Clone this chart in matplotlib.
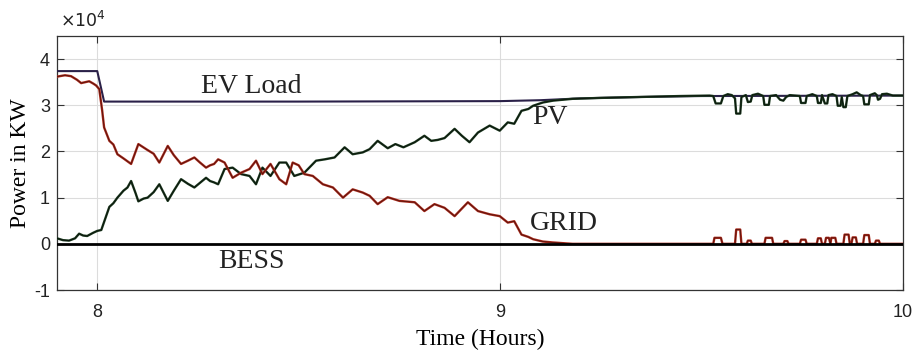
import numpy as np
import matplotlib
matplotlib.use('Agg')
import matplotlib.pyplot as plt

# values in units of 1e4 kW, time in hours
t_load = [7.90, 8.00, 8.017, 8.5, 9.0, 9.1, 9.2, 9.35, 9.5, 10.0]
load = [3.74, 3.74, 3.08, 3.08, 3.09, 3.11, 3.15, 3.18, 3.20, 3.21]

t_pv = [7.90, 7.915, 7.93, 7.945, 7.955, 7.965, 7.975, 7.99, 8.00, 8.01,
        8.02, 8.03, 8.04, 8.05, 8.065, 8.075, 8.084, 8.095, 8.102, 8.115,
        8.125, 8.14, 8.154, 8.165, 8.175, 8.19, 8.208, 8.225, 8.241, 8.255,
        8.27, 8.28, 8.29, 8.30, 8.316, 8.336, 8.357, 8.378, 8.394, 8.41,
        8.43, 8.452, 8.469, 8.489, 8.514, 8.543, 8.565, 8.589, 8.614, 8.634,
        8.659, 8.676, 8.696, 8.721, 8.74, 8.76, 8.788, 8.812, 8.829, 8.845,
        8.862, 8.887, 8.905, 8.924, 8.945, 8.974, 8.999, 9.019, 9.035, 9.053,
        9.07, 9.082, 9.106, 9.131, 9.155, 9.18, 9.25, 9.35, 9.446, 9.52,
        9.529, 9.535, 9.548, 9.554, 9.565, 9.575, 9.583, 9.586, 9.596, 9.599,
        9.61, 9.615, 9.622, 9.626, 9.64, 9.653, 9.656, 9.667, 9.670, 9.685,
        9.695, 9.703, 9.71, 9.719, 9.744, 9.747, 9.758, 9.761, 9.775, 9.786,
        9.789, 9.796, 9.799, 9.806, 9.812, 9.815, 9.825, 9.835, 9.838, 9.845,
        9.848, 9.852, 9.858, 9.862, 9.875, 9.885, 9.895, 9.901, 9.904, 9.915,
        9.918, 9.93, 9.935, 9.938, 9.943, 9.948, 9.96, 9.975, 10.0]
pv = [0.12, 0.08, 0.07, 0.12, 0.22, 0.18, 0.17, 0.24, 0.28, 0.30,
      0.55, 0.80, 0.88, 1.00, 1.15, 1.22, 1.36, 1.10, 0.92, 0.98,
      1.00, 1.12, 1.29, 1.10, 0.93, 1.15, 1.40, 1.30, 1.22, 1.32,
      1.43, 1.36, 1.33, 1.29, 1.62, 1.65, 1.51, 1.47, 1.29, 1.65,
      1.47, 1.76, 1.76, 1.47, 1.54, 1.80, 1.83, 1.87, 2.09, 1.94,
      1.98, 2.05, 2.23, 2.07, 2.16, 2.09, 2.20, 2.34, 2.23, 2.25,
      2.29, 2.49, 2.34, 2.20, 2.41, 2.56, 2.45, 2.63, 2.60, 2.88,
      2.92, 2.99, 3.06, 3.10, 3.12, 3.14, 3.16, 3.18, 3.20, 3.21,
      3.20, 3.04, 3.04, 3.20, 3.24, 3.22, 3.15, 2.82, 2.82, 3.18,
      3.22, 3.07, 3.08, 3.22, 3.25, 3.20, 3.01, 3.01, 3.20, 3.22,
      3.12, 3.10, 3.18, 3.22, 3.20, 3.05, 3.05, 3.20, 3.24, 3.20,
      3.05, 3.05, 3.22, 3.04, 3.04, 3.22, 3.24, 3.20, 2.99, 2.99,
      3.18, 2.96, 2.96, 3.20, 3.24, 3.28, 3.22, 3.20, 3.02, 3.02,
      3.22, 3.26, 3.22, 3.12, 3.14, 3.24, 3.25, 3.21, 3.21]

t_grid = [7.90, 7.92, 7.935, 7.95, 7.96, 7.97, 7.98, 7.99, 7.997, 8.005,
          8.012, 8.017, 8.03, 8.04, 8.05, 8.065, 8.084, 8.102, 8.125, 8.14,
          8.154, 8.175, 8.19, 8.208, 8.225, 8.241, 8.255, 8.27, 8.28, 8.29,
          8.30, 8.316, 8.336, 8.357, 8.378, 8.394, 8.41, 8.43, 8.452, 8.469,
          8.485, 8.50, 8.514, 8.535, 8.56, 8.585, 8.61, 8.634, 8.659, 8.676,
          8.696, 8.721, 8.75, 8.788, 8.812, 8.837, 8.862, 8.887, 8.92, 8.945,
          8.974, 8.999, 9.019, 9.035, 9.053, 9.07, 9.082, 9.106, 9.131, 9.18,
          9.529, 9.532, 9.548, 9.552, 9.583, 9.586, 9.596, 9.599, 9.612, 9.615,
          9.622, 9.625, 9.656, 9.659, 9.675, 9.678, 9.703, 9.706, 9.713, 9.716,
          9.744, 9.747, 9.758, 9.761, 9.786, 9.789, 9.796, 9.799, 9.806, 9.809,
          9.816, 9.82, 9.822, 9.832, 9.835, 9.852, 9.855, 9.865, 9.868, 9.872,
          9.875, 9.883, 9.886, 9.901, 9.904, 9.915, 9.918, 9.93, 9.933, 9.94,
          9.943, 10.0]
grid = [3.62, 3.65, 3.63, 3.55, 3.48, 3.50, 3.52, 3.47, 3.43, 3.35,
        2.90, 2.52, 2.23, 2.15, 1.94, 1.85, 1.73, 2.16, 2.03, 1.95,
        1.76, 2.12, 1.92, 1.73, 1.80, 1.87, 1.76, 1.65, 1.70, 1.73,
        1.83, 1.76, 1.43, 1.54, 1.62, 1.80, 1.51, 1.73, 1.40, 1.29,
        1.76, 1.70, 1.51, 1.47, 1.29, 1.22, 1.00, 1.18, 1.11, 1.04,
        0.86, 1.01, 0.93, 0.90, 0.71, 0.86, 0.78, 0.60, 0.90, 0.71,
        0.64, 0.60, 0.46, 0.49, 0.20, 0.15, 0.10, 0.05, 0.03, 0.0,
        0.0, 0.13, 0.13, 0.0, 0.0, 0.31, 0.31, 0.0, 0.0, 0.07,
        0.07, 0.0, 0.0, 0.13, 0.13, 0.0, 0.0, 0.06, 0.06, 0.0,
        0.0, 0.09, 0.09, 0.0, 0.0, 0.12, 0.12, 0.0, 0.0, 0.13,
        0.13, 0.0, 0.13, 0.13, 0.0, 0.0, 0.20, 0.20, 0.0, 0.0,
        0.14, 0.14, 0.0, 0.0, 0.19, 0.19, 0.0, 0.0, 0.07, 0.07,
        0.0, 0.0]

t_bess = [7.90, 10.0]
bess = [0.0, 0.0]

labels = ['EV Load', 'PV', 'GRID', 'BESS']
label_pos = [(8.383, 3.41), (9.123, 2.73), (9.158, 0.45), (8.383, -0.38)]

serif = ['Liberation Serif', 'DejaVu Serif']
sans = ['Liberation Sans', 'DejaVu Sans']

fig = plt.figure(figsize=(9.16, 3.55), dpi=100)
ax = fig.add_axes([0.0622, 0.183, 0.9236, 0.7156])

ax.plot(t_load, load, color='#2a2048', lw=1.5, zorder=3)
ax.plot(t_pv, pv, color='#1c3a20', lw=1.7, zorder=4)
ax.plot(t_pv, pv, color='#0a120a', lw=0.6, zorder=4)
ax.plot(t_grid, grid, color='#a8281a', lw=1.7, zorder=4)
ax.plot(t_grid, grid, color='#4a100a', lw=0.5, zorder=4)
ax.plot(t_bess, bess, color='black', lw=2.0, zorder=5)

for lab, (x, y) in zip(labels, label_pos):
    ax.text(x, y, lab, family=serif, fontsize=20, ha='center', va='center',
            color='#222222')

ax.set_xlim(7.9, 10)
ax.set_ylim(-1, 4.5)
ax.set_xticks([8, 9, 10])
ax.set_yticks([-1, 0, 1, 2, 3, 4])
ax.set_xticklabels(['8', '9', '10'], family=sans, fontsize=13)
ax.set_yticklabels(['-1', '0', '1', '2', '3', '4'], family=sans, fontsize=13)
ax.tick_params(direction='in', top=True, right=True, length=5, width=0.8,
               color='#333333', labelcolor='#222222')
ax.tick_params(axis='x', pad=10)
ax.tick_params(axis='y', pad=5)
ax.grid(True, color='#dcdcdc', lw=0.8)
ax.set_axisbelow(True)
for s in ax.spines.values():
    s.set_color('#333333')
    s.set_linewidth(0.9)

ax.set_xlabel('Time (Hours)', family=serif, fontsize=17, labelpad=6)
ax.set_ylabel('Power in KW', family=serif, fontsize=17, labelpad=2)
ax.text(0.003, 1.025, r'$\times10^4$', transform=ax.transAxes, family=sans,
        fontsize=12.5, ha='left', va='bottom', color='#222222')

fig.savefig('out.png', dpi=100)
